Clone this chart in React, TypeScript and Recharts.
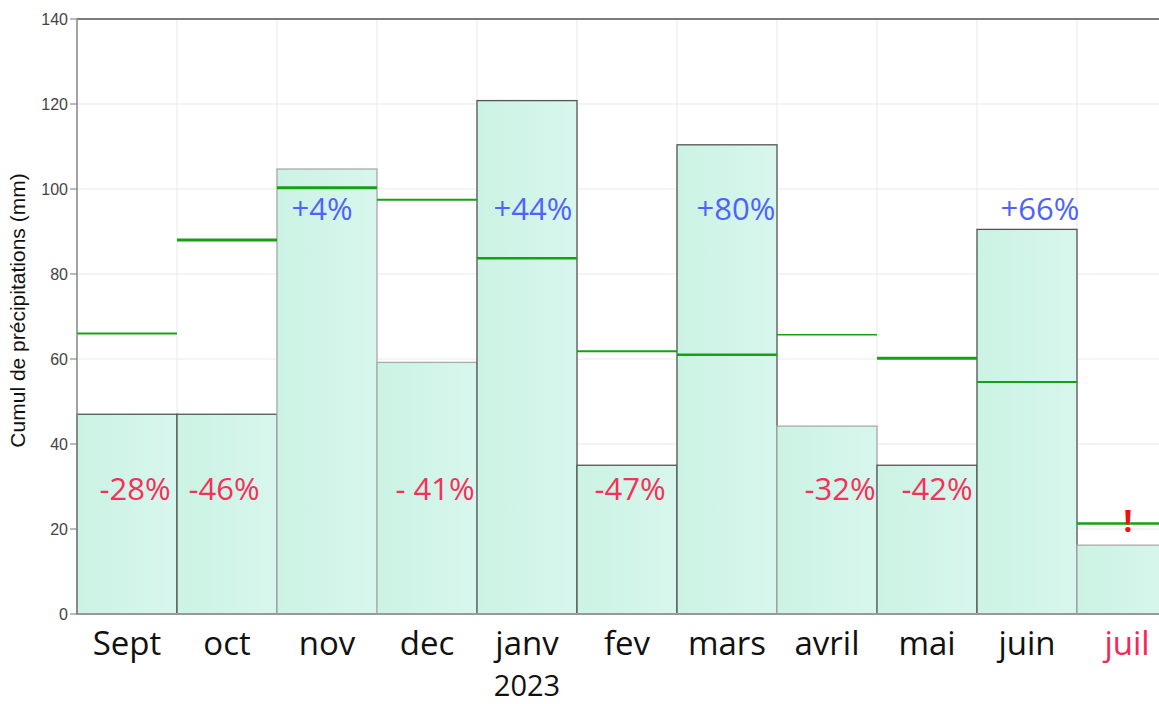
import React from 'react';
import { ComposedChart, Bar, XAxis, YAxis, CartesianGrid, LabelList, ReferenceLine } from 'recharts';

// ---- data ----
const months = ['Sept', 'oct', 'nov', 'dec', 'janv', 'fev', 'mars', 'avril', 'mai', 'juin', 'juil'];
const rainfall = [47, 47, 104.7, 59.2, 120.8, 35, 110.4, 44.2, 35, 90.5, 16.2];
const normals = [66, 88, 100.3, 97.5, 83.7, 61.8, 61, 65.7, 60.2, 54.6, 21.3];
const deviations = ['-28%', '-46%', '+4%', '- 41%', '+44%', '-47%', '+80%', '-32%', '-42%', '+66%', '!'];
const yTicks = [0, 20, 40, 60, 80, 100, 120, 140];
const yearLabel = '2023';
const yearMonth = 'janv';
const currentMonth = 'juil';

// ---- styles (kept apart from the data) ----
const barStrokes = ['#555', '#555', '#aaa', '#aaa', '#555', '#555', '#555', '#aaa', '#555', '#555', '#aaa'];
const normalWidths = [2, 3, 3, 2, 2.5, 2, 2.5, 1.5, 3, 2, 2.5];
const labelShift = [8, -3, -5, 8, 6, 3, 9, 13, 10, 13, 1];

const data = months.map((m, i) => ({
  month: m,
  rain: rainfall[i],
  normal: normals[i],
  dev: deviations[i],
}));

const RED = '#f7305a';
const BLUE = '#4f62ff';

const RainShape = (props: any) => {
  const { x, y, width, height, index } = props;
  return (
    <rect
      x={x}
      y={y}
      width={width}
      height={height}
      fill="url(#mintGrad)"
      stroke={barStrokes[index] || '#555'}
      strokeWidth={1.3}
    />
  );
};

const NormalShape = (props: any) => {
  const { x, y, width, index } = props;
  return (
    <line x1={x} x2={x + width} y1={y} y2={y} stroke="#16a016" strokeWidth={normalWidths[index] || 2} />
  );
};

const DevLabel = (props: any) => {
  const vb = props.viewBox && props.viewBox.width != null ? props.viewBox : props;
  const { x, y, width, height } = vb;
  const index = props.index;
  const d = data[index];
  if (!d) return null;
  const base = y + height;
  const perUnit = height / d.normal;
  const txt = d.dev;
  let level: number;
  let color: string;
  let weight = 400;
  if (txt === '!') {
    level = 19.2;
    color = '#ee1111';
    weight = 700;
  } else if (txt.startsWith('+')) {
    level = 92.7;
    color = BLUE;
  } else {
    level = 26.8;
    color = RED;
  }
  return (
    <text
      x={x + width / 2 + (labelShift[index] || 0)}
      y={base - level * perUnit}
      textAnchor="middle"
      fontFamily="'Open Sans', sans-serif"
      fontSize={31}
      fontWeight={weight}
      fill={color}
    >
      {txt}
    </text>
  );
};

const MonthTick = (props: any) => {
  const { x, y, payload } = props;
  const v = payload.value;
  return (
    <g>
      <text
        x={x}
        y={y + 41}
        textAnchor="middle"
        fontFamily="'Open Sans', sans-serif"
        fontSize={33}
        fill={v === currentMonth ? '#f2285a' : '#111'}
      >
        {v}
      </text>
      {v === yearMonth && (
        <text
          x={x}
          y={y + 82}
          textAnchor="middle"
          fontFamily="'Open Sans', sans-serif"
          fontSize={29}
          fill="#111"
        >
          {yearLabel}
        </text>
      )}
    </g>
  );
};

const YLabel = (props: any) => {
  const vb = props.viewBox || { x: 0, y: 19, width: 77, height: 595 };
  const cx = vb.x + 25;
  const cy = vb.y + vb.height / 2 - 6;
  return (
    <text
      x={cx}
      y={cy}
      transform={`rotate(-90, ${cx}, ${cy})`}
      textAnchor="middle"
      fontFamily="'Liberation Sans', Arial, sans-serif"
      fontSize={21}
      fill="#111"
    >
      Cumul de précipitations (mm)
    </text>
  );
};

export default function App() {
  return (
    <div style={{ position: 'absolute', left: 0, top: 0, width: 1159, height: 704, overflow: 'hidden', background: '#fff' }}>
      <ComposedChart
        width={1200}
        height={704}
        data={data}
        margin={{ top: 19, right: 23, left: 0, bottom: 30 }}
        barCategoryGap={0}
        barGap={0}
      >
        <defs>
          <linearGradient id="mintGrad" x1="0" y1="0" x2="1" y2="0">
            <stop offset="0%" stopColor="#cbf3e4" />
            <stop offset="100%" stopColor="#d8f6ed" />
          </linearGradient>
        </defs>
        <CartesianGrid
          xAxisId="m"
          stroke="#e9e9e9"
          strokeWidth={1}
          verticalCoordinatesGenerator={({ offset }: any) =>
            months.map((_, i) => offset.left + (i * offset.width) / months.length).concat([offset.left + offset.width])
          }
        />
        <XAxis
          xAxisId="m"
          dataKey="month"
          height={60}
          tickLine={false}
          tickSize={0}
          tickMargin={0}
          axisLine={{ stroke: '#999', strokeWidth: 2 }}
          tick={<MonthTick />}
          interval={0}
        />
        <XAxis xAxisId="n" dataKey="month" hide />
        <YAxis
          width={77}
          domain={[0, 140]}
          ticks={yTicks}
          interval={0}
          tickSize={7}
          tickMargin={2}
          tickLine={{ stroke: '#777' }}
          axisLine={{ stroke: '#888', strokeWidth: 1.5 }}
          tick={{ fontSize: 16, fontFamily: "'Liberation Sans', Arial, sans-serif", fill: '#444' }}
          label={<YLabel />}
        />
        <ReferenceLine y={140} xAxisId="m" stroke="#555" strokeWidth={1.5} />
        <Bar xAxisId="m" dataKey="rain" shape={<RainShape />} isAnimationActive={false} />
        <Bar xAxisId="n" dataKey="normal" shape={<NormalShape />} isAnimationActive={false}>
          <LabelList dataKey="dev" content={<DevLabel />} />
        </Bar>
      </ComposedChart>
    </div>
  );
}
